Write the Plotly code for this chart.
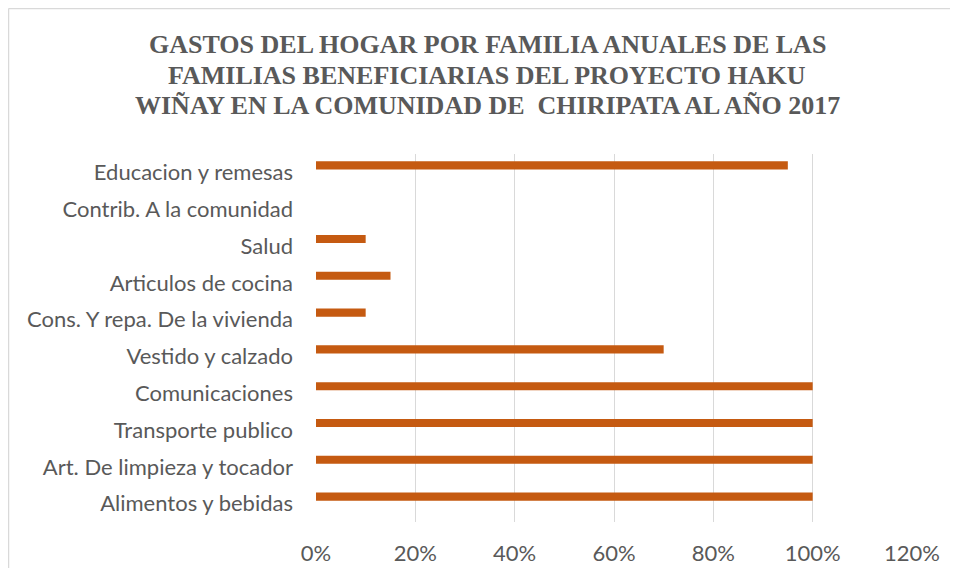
import plotly.graph_objects as go

categories = [
    "Alimentos y bebidas",
    "Art. De limpieza y tocador",
    "Transporte publico",
    "Comunicaciones",
    "Vestido y calzado",
    "Cons. Y repa. De la vivienda",
    "Articulos de cocina",
    "Salud",
    "Contrib. A la comunidad",
    "Educacion y remesas",
]
values = [1.00, 1.00, 1.00, 1.00, 0.70, 0.10, 0.15, 0.10, 0.0, 0.95]
x_ticks = [0, 0.2, 0.4, 0.6, 0.8, 1.0, 1.2]
x_tick_labels = ["0%", "20%", "40%", "60%", "80%", "100%", "120%"]

title_lines = [
    "GASTOS DEL HOGAR POR FAMILIA ANUALES DE LAS",
    "FAMILIAS BENEFICIARIAS DEL PROYECTO HAKU",
    "WIÑAY EN LA COMUNIDAD DE  CHIRIPATA AL AÑO 2017",
]

# layout geometry (figure pixels; page body adds an 8px offset)
W, H = 950, 560
ML, MR, MT = 308, 46, 146
PLOT_H = 367.7
MB = H - MT - PLOT_H
PLOT_W = W - ML - MR


def px_to_paper_x(px):
    return (px - ML) / PLOT_W


def px_to_paper_y(py):
    return 1 + (MT - py) / PLOT_H


fig = go.Figure()
fig.add_trace(go.Bar(
    y=categories,
    x=values,
    orientation="h",
    marker=dict(color="#C55A11", line=dict(width=0)),
    width=0.22,
    offset=0.08,
    hoverinfo="x+y",
))

gray = "#595959"
title_font = "Liberation Serif, Times New Roman, Tinos, DejaVu Serif, serif"
title_y_px = [37, 68, 98]
annotations = [
    dict(text=f"<b>{t}</b>", xref="paper", yref="paper",
         x=px_to_paper_x(479), y=px_to_paper_y(yp),
         xanchor="center", yanchor="middle", showarrow=False,
         font=dict(family=title_font, size=26, color=gray))
    for t, yp in zip(title_lines, title_y_px)
]

fig.update_layout(
    width=W,
    height=H,
    margin=dict(l=ML, r=MR, t=MT, b=MB, pad=0, autoexpand=False),
    paper_bgcolor="white",
    plot_bgcolor="white",
    showlegend=False,
    annotations=annotations,
    xaxis=dict(
        range=[0, 1.2],
        tickvals=x_ticks,
        ticktext=x_tick_labels,
        showgrid=True,
        gridcolor="#D9D9D9",
        gridwidth=1.3,
        zeroline=False,
        showline=False,
        ticks="",
        ticklabelstandoff=16,
        tickfont=dict(family="Lato", size=22, color=gray),
        automargin=False,
        fixedrange=True,
    ),
    yaxis=dict(
        categoryorder="array",
        categoryarray=categories,
        showgrid=False,
        zeroline=False,
        showline=False,
        ticks="",
        ticklabelstandoff=22,
        tickfont=dict(family="Lato", size=22, color=gray),
        automargin=False,
        fixedrange=True,
    ),
    shapes=[
        dict(type="line", xref="paper", yref="paper",
             x0=px_to_paper_x(0.5), x1=px_to_paper_x(W),
             y0=px_to_paper_y(0.5), y1=px_to_paper_y(0.5),
             line=dict(color="#D9D9D9", width=1.5)),
        dict(type="line", xref="paper", yref="paper",
             x0=px_to_paper_x(0.5), x1=px_to_paper_x(0.5),
             y0=px_to_paper_y(0.5), y1=px_to_paper_y(H),
             line=dict(color="#D9D9D9", width=1.5)),
    ],
)

fig.write_html("out.html", config={"displayModeBar": False})
